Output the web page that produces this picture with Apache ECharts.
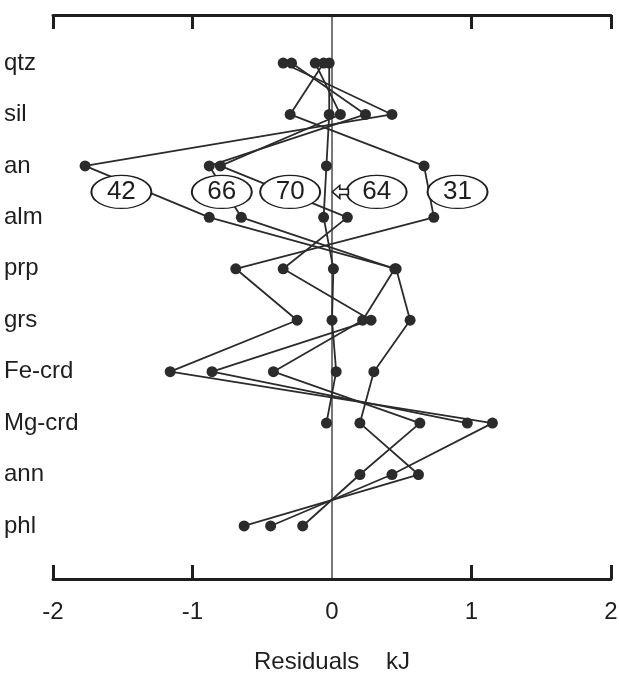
<!DOCTYPE html>
<html lang="en">
<head>
    <meta charset="UTF-8" />
    <title>Residuals</title>
    <script src="https://cdn.jsdelivr.net/npm/echarts@6/dist/echarts.min.js"></script>
    <style>html, body { margin: 0; padding: 0; background: #fff; }</style>
</head>
<body>
    <div id="main" style="width: 619px; height: 675px"></div>
    <script>
        // minerals, top to bottom
        var minerals = ["qtz", "sil", "an", "alm", "prp", "grs", "Fe-crd", "Mg-crd", "ann", "phl"];
        // residuals (kJ) per data set, null = not in that set
        var res42 = [-0.35, 0.43, -1.77, -0.88, 0.46, 0.56, 0.30, 0.20, 0.62, -0.63];
        var res66 = [-0.29, 0.24, -0.88, -0.65, 0.45, 0.22, -0.42, 0.63, 0.20, -0.21];
        var res70 = [-0.12, 0.06, -0.80, 0.11, -0.35, 0.28, -0.86, 0.97, null, null];
        var res64 = [-0.02, -0.02, -0.04, -0.06, 0.01, 0.00, 0.03, -0.04, null, null];
        var res31 = [-0.06, -0.30, 0.66, 0.73, -0.69, -0.25, -1.16, 1.15, 0.43, -0.44];
        var setNames = ["42", "66", "70", "64", "31"];
        var xTicks = [-2, -1, 0, 1, 2];

        var ink = "#1e1e1e";
        var font = "Liberation Sans, Arial, sans-serif";

        var mCharts = echarts.init(document.getElementById("main"));

        function pairs(arr) {
            return arr.map(function (v, i) { return [v, i]; })
                      .filter(function (d) { return d[0] !== null; });
        }

        var sets = [res42, res66, res70, res64, res31];
        var lineSeries = sets.map(function (arr, k) {
            return {
                name: setNames[k],
                type: "line",
                xAxisIndex: 2,
                yAxisIndex: 1,
                data: pairs(arr),
                symbol: "circle",
                symbolSize: 11,
                itemStyle: { color: "#2b2b2b" },
                lineStyle: { color: "#2b2b2b", width: 1.8 },
                silent: true,
                z: 3
            };
        });

        // oval tags sitting on the an -> alm segments
        var ellipse = "path://M0,16 A30,16 0 1,0 60,16 A30,16 0 1,0 0,16 Z";
        var arrowLeft = "path://M0,5 L6,0 L6,3 L13,3 L13,7 L6,7 L6,10 Z";
        var tagX = [-1.51, -0.79, -0.30, 0.32, 0.90];
        var tagData = setNames.map(function (n, k) {
            return { name: n, value: [tagX[k], 2] };
        });
        tagData.push({
            name: "",
            value: [0.06, 2],
            symbol: arrowLeft,
            symbolSize: [16, 13],
            label: { show: false }
        });

        var option = {
            animation: false,
            grid: [
                { left: 53, right: 8, top: 15, bottom: 96, outerBoundsMode: "none", containLabel: false },
                { left: 53, right: 8, top: 37.3, bottom: 123.3, outerBoundsMode: "none", containLabel: false }
            ],
            xAxis: [
                {
                    gridIndex: 0, type: "value", position: "bottom",
                    min: xTicks[0], max: xTicks[xTicks.length - 1], interval: 1,
                    axisLine: { lineStyle: { color: ink, width: 3 } },
                    axisTick: { inside: true, length: 14, customValues: [-2, -1, 1, 2], lineStyle: { color: ink, width: 3 } },
                    axisLabel: { fontSize: 24, color: ink, margin: 21, fontFamily: font },
                    splitLine: { show: false },
                    name: "Residuals    kJ",
                    nameLocation: "middle",
                    nameGap: 71,
                    nameTextStyle: { fontSize: 24, color: ink, fontFamily: font }
                },
                {
                    gridIndex: 0, type: "value", position: "top",
                    min: -2, max: 2, interval: 1,
                    axisLine: { lineStyle: { color: ink, width: 3 } },
                    axisTick: { inside: true, length: 14, customValues: [-2, -1, 1, 2], lineStyle: { color: ink, width: 3 } },
                    axisLabel: { show: false },
                    splitLine: { show: false }
                },
                { gridIndex: 1, type: "value", min: -2, max: 2, show: false }
            ],
            yAxis: [
                { gridIndex: 0, type: "value", min: 0, max: 1, show: false },
                {
                    gridIndex: 1, type: "category", data: minerals, inverse: true,
                    axisLine: { show: false },
                    axisTick: { show: false },
                    axisLabel: { align: "left", margin: 49, fontSize: 24, color: ink, fontFamily: font },
                    splitLine: { show: false }
                }
            ],
            series: lineSeries.concat([
                {
                    // zero line
                    type: "line",
                    xAxisIndex: 0,
                    yAxisIndex: 0,
                    data: [[0, 0], [0, 1]],
                    symbol: "none",
                    lineStyle: { color: ink, width: 1.2 },
                    silent: true,
                    z: 2
                },
                {
                    type: "scatter",
                    xAxisIndex: 2,
                    yAxisIndex: 1,
                    data: tagData,
                    symbol: ellipse,
                    symbolSize: [60, 33],
                    symbolOffset: [0, 26],
                    itemStyle: { color: "#fff", borderColor: ink, borderWidth: 1.5, opacity: 1 },
                    label: {
                        show: true, position: "inside", formatter: "{b}",
                        fontSize: 26, color: ink, fontFamily: font
                    },
                    silent: true,
                    z: 10
                }
            ])
        };
        mCharts.setOption(option);
    </script>
</body>
</html>
